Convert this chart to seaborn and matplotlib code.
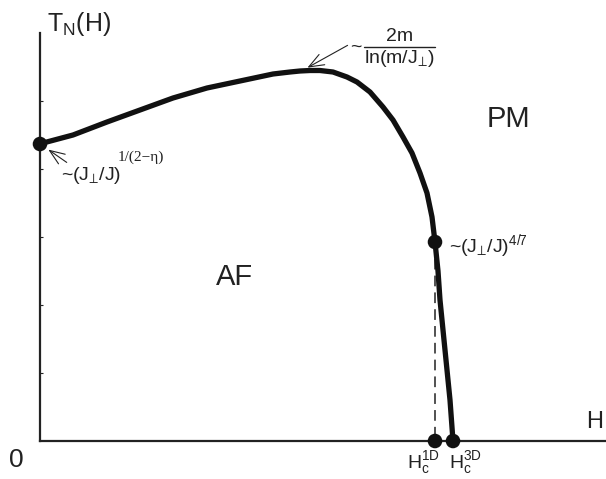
import matplotlib
matplotlib.use("Agg")
import matplotlib.pyplot as plt
import seaborn as sns
import pandas as pd

# Phase boundary T_N(H) (arbitrary units)
field = [0, 3, 33, 67, 100, 133, 167, 200, 233, 250, 260, 270, 280, 293, 307, 317, 330, 343,
         353, 363, 372, 380, 387, 392, 395, 398, 400, 405, 410, 413]
temp = [297, 298, 306, 319, 331, 343, 353, 360, 367, 369, 370, 370.5, 370.5, 369, 364, 359, 349, 334,
        321, 304, 288, 268, 248, 224, 199, 170, 141, 91, 41, 0]

# marked points
dot_x = [0, 395, 395, 413]
dot_y = [297, 199, 0, 0]

ytick_pos = [68, 136, 204, 272, 340]

sns.set_theme(style="white")
plt.rcParams["font.family"] = ["Liberation Sans", "DejaVu Sans"]
plt.rcParams["mathtext.fontset"] = "custom"
plt.rcParams["mathtext.rm"] = "Liberation Sans"
plt.rcParams["mathtext.it"] = "Liberation Sans"
plt.rcParams["mathtext.sf"] = "Liberation Sans"
plt.rcParams["mathtext.default"] = "regular"
plt.rcParams["mathtext.fallback"] = "stixsans"

W, H = 606, 479
fig = plt.figure(figsize=(W / 100, H / 100), dpi=100)
ax = fig.add_axes([40 / W, (H - 441) / H, (W - 40) / W, (441 - 33) / H])

df = pd.DataFrame({"H": field, "T": temp})
sns.lineplot(data=df, x="H", y="T", sort=False, ax=ax, color="#111111", lw=3.8,
             solid_capstyle="round", solid_joinstyle="round", zorder=3)
ax.plot([dot_x[1], dot_x[2]], [dot_y[1], dot_y[2]], color="#222222", lw=1.1,
        dashes=(7, 4), zorder=2)
sns.scatterplot(x=dot_x, y=dot_y, ax=ax, s=110, color="#111111", edgecolor="none",
                zorder=4, clip_on=False)

ax.set_xlim(0, W - 40)
ax.set_ylim(0, 441 - 33)
ax.set_xlabel("")
ax.set_ylabel("")
ax.set_xticks([])
ax.set_yticks(ytick_pos)
ax.set_yticklabels([])
ax.tick_params(axis="y", direction="in", length=2.5, width=0.8, color="#222222", left=True)
for s in ["top", "right"]:
    ax.spines[s].set_visible(False)
for s in ["left", "bottom"]:
    ax.spines[s].set_color("#222222")
    ax.spines[s].set_linewidth(1.6)

tc = "#222222"
PERP = "\u22a5"
# helper: place text by pixel coordinates (from top-left)
def ptext(x, y, s, **kw):
    fig.text(x / W, 1 - y / H, s, color=tc, **kw)

ptext(47, 31, r"$\mathregular{T_N(H)}$", fontsize=18, ha="left", va="baseline")
ptext(508, 127, "PM", fontsize=21, ha="center", va="baseline")
ptext(234, 285, "AF", fontsize=21, ha="center", va="baseline")
ptext(595, 428, "H", fontsize=17, ha="center", va="baseline")
ptext(16, 467, "0", fontsize=19, ha="center", va="baseline")

# left annotation
ptext(61, 180, "~(J$_{" + PERP + "}$/J)", fontsize=14, ha="left", va="baseline")
ptext(118, 161, "1/(2\u2212\u03b7)", fontsize=11, ha="left", va="baseline",
      family=["Liberation Serif", "DejaVu Serif"])
ax.annotate("", xy=(6, 293), xytext=(29, 277),
            arrowprops=dict(arrowstyle="->,head_length=0.9,head_width=0.35", lw=0.8, color=tc))

# peak annotation
ptext(350, 47, "~", fontsize=14, ha="left", va="center")
ptext(400, 41, "2m", fontsize=14, ha="center", va="baseline")
fig.add_artist(plt.Line2D([364 / W, 435 / W], [1 - 46.5 / H, 1 - 46.5 / H], color=tc, lw=1.0))
ptext(399, 63, "ln(m/J$_{" + PERP + "}$)", fontsize=14, ha="center", va="baseline")
ax.annotate("", xy=(265, 372), xytext=(310, 397),
            arrowprops=dict(arrowstyle="->,head_length=0.9,head_width=0.35", lw=0.8, color=tc))

# lower-right annotation
ptext(449, 252, "~(J$_{" + PERP + "}$/J)$^{4/7}$", fontsize=14, ha="left", va="baseline")

# critical fields
ptext(407, 468, r"H$_c^{1D}$", fontsize=14, ha="left", va="baseline")
ptext(449, 468, r"H$_c^{3D}$", fontsize=14, ha="left", va="baseline")

fig.savefig("out.png", dpi=100)
